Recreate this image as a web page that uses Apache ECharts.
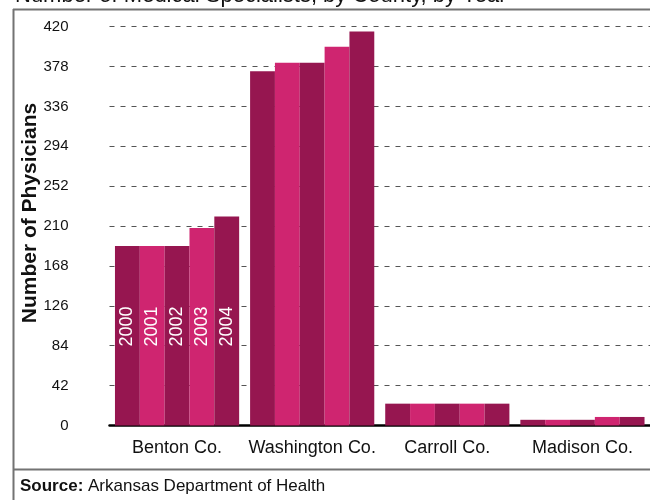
<!DOCTYPE html>
<html>
<head>
<meta charset="utf-8">
<script src="https://cdn.jsdelivr.net/npm/echarts@6/dist/echarts.min.js"></script>
<style>
html,body{margin:0;padding:0;background:#fff;}
#chart{width:650px;height:500px;}
</style>
</head>
<body>
<div id="chart"></div>
<script>
var titleText = 'Number of Medical Specialists, by County, by Year';
var yAxisTitle = 'Number of Physicians';
var sourceLabel = 'Source:';
var sourceText = ' Arkansas Department of Health';
var counties = ['Benton Co.', 'Washington Co.', 'Carroll Co.', 'Madison Co.'];
var years = ['2000', '2001', '2002', '2003', '2004'];
var y2000 = [189, 373, 23, 6];
var y2001 = [189, 382, 23, 6];
var y2002 = [189, 382, 23, 6];
var y2003 = [208, 399, 23, 9];
var y2004 = [220, 415, 23, 9];
var yMin = 0, yMax = 420, yStep = 42;

var seriesValues = [y2000, y2001, y2002, y2003, y2004];
var dark = '#961650', pink = '#CF2570';
var colors = [dark, pink, dark, pink, dark];
var FONT = '"Liberation Sans", Arial, Helvetica, sans-serif';

var chart = echarts.init(document.getElementById('chart'), null, {renderer: 'canvas'});

var series = years.map(function (yr, i) {
  return {
    name: yr,
    type: 'bar',
    barGap: '0%',
    barCategoryGap: '8.1%',
    itemStyle: {color: colors[i]},
    data: seriesValues[i].map(function (v, j) {
      if (j === 0) {
        return {
          value: v,
          label: {
            show: true,
            formatter: yr,
            position: 'insideBottom',
            rotate: 90,
            align: 'left',
            verticalAlign: 'middle',
            distance: 79,
            color: '#fff',
            fontSize: 18,
            fontFamily: FONT
          }
        };
      }
      return v;
    })
  };
});

chart.setOption({
  animation: false,
  backgroundColor: '#fff',
  grid: {left: 109.5, top: 26.7, width: 544, height: 398.8, containLabel: false},
  xAxis: {
    type: 'category',
    data: counties,
    axisLine: {show: true, lineStyle: {color: '#000', width: 2.5}},
    axisTick: {show: false},
    axisLabel: {fontSize: 18, color: '#111', margin: 14, fontFamily: FONT, interval: 0}
  },
  yAxis: {
    type: 'value',
    min: yMin, max: yMax, interval: yStep,
    axisLine: {show: false},
    axisTick: {show: false},
    axisLabel: {fontSize: 15, color: '#111', margin: 41, fontFamily: FONT},
    splitLine: {show: true, lineStyle: {color: '#555', width: 1, type: [5, 6]}}
  },
  series: series,
  graphic: [
    {type: 'line', silent: true, shape: {x1: 13.5, y1: 9, x2: 13.5, y2: 500}, style: {stroke: '#737373', lineWidth: 2}},
    {type: 'line', silent: true, shape: {x1: 13, y1: 9.5, x2: 650, y2: 9.5}, style: {stroke: '#737373', lineWidth: 2}},
    {type: 'line', silent: true, shape: {x1: 13, y1: 469.5, x2: 650, y2: 469.5}, style: {stroke: '#737373', lineWidth: 2}},
    {type: 'text', silent: true, x: 15, y: 6.5, style: {text: titleText, fill: '#111', font: '22px ' + FONT, textAlign: 'left', textVerticalAlign: 'bottom'}},
    {type: 'text', silent: true, x: 30, y: 213, rotation: Math.PI / 2, style: {text: yAxisTitle, fill: '#111', font: 'bold 21px ' + FONT, textAlign: 'center', textVerticalAlign: 'middle'}},
    {type: 'text', silent: true, x: 20, y: 486, style: {
      text: '{b|' + sourceLabel + '}{n|' + sourceText + '}',
      rich: {
        b: {fontWeight: 'bold', fontSize: 17, fontFamily: FONT, fill: '#111'},
        n: {fontSize: 17, fontFamily: FONT, fill: '#111'}
      },
      textAlign: 'left', textVerticalAlign: 'middle'
    }}
  ]
});
</script>
</body>
</html>
